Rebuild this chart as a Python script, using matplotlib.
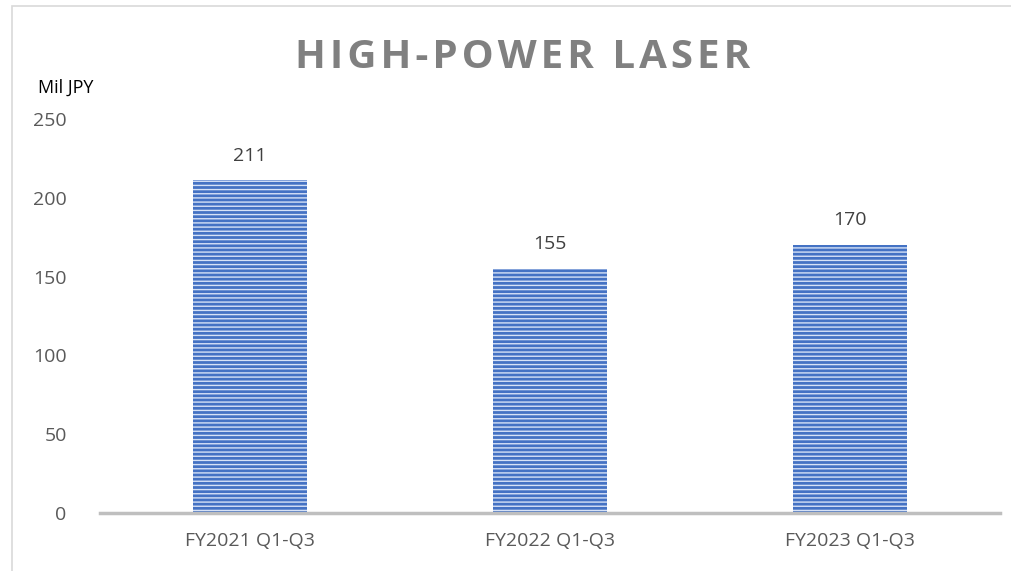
import matplotlib
matplotlib.use("Agg")
import matplotlib.pyplot as plt
from matplotlib.patches import Rectangle

categories = ["FY2021 Q1-Q3", "FY2022 Q1-Q3", "FY2023 Q1-Q3"]
values = [211, 155, 170]
yticks = [0, 50, 100, 150, 200, 250]

plt.rcParams['font.family'] = ['Open Sans', 'DejaVu Sans']
plt.rcParams['hatch.linewidth'] = 1.0

fig = plt.figure(figsize=(10.11, 5.71), dpi=100)
fig.patches.append(Rectangle((12 / 1011, -0.1), 1.2, (571 - 6) / 571 + 0.1,
                             transform=fig.transFigure, fill=False,
                             edgecolor='#d9d9d9', lw=1.2))

ax = fig.add_axes([100 / 1011, 58 / 571, 900 / 1011, 394 / 571])
x = range(len(categories))
ax.bar(x, values, width=0.383, color='#4472c4', edgecolor='#d6e2f7',
       linewidth=0, hatch='----')

for xi, v in zip(x, values):
    ax.text(xi, v + 10, str(v), ha='center', va='bottom', fontsize=14,
            color='#404040')

ax.set_xlim(-0.5, 2.5)
ax.set_ylim(0, 250)
ax.set_yticks(yticks)
ax.set_xticks(list(x))
ax.set_xticklabels(categories)
ax.tick_params(axis='both', length=0, labelsize=14, labelcolor='#595959')
ax.tick_params(axis='x', pad=14)
ax.tick_params(axis='y', pad=24)
for s in ['top', 'right', 'left']:
    ax.spines[s].set_visible(False)
ax.spines['bottom'].set_color('#bfbfbf')
ax.spines['bottom'].set_linewidth(2.5)

fig.text(66 / 1011, 1 - 88 / 571, "Mil JPY", ha='center', va='center',
         fontsize=13, color='black')
title = "\u200a".join("HIGH-POWER LASER")
fig.text(523 / 1011, 1 - 58 / 571, title,
         ha='center', va='center', fontsize=29, fontweight='bold',
         color='#808080')

fig.savefig("out.png", dpi=100)
